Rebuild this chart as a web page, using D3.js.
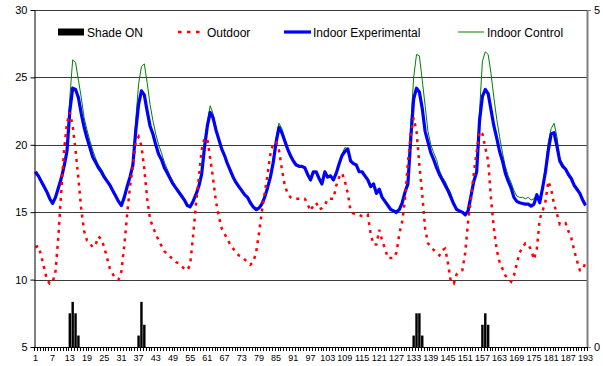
<!DOCTYPE html>
<html>
<head>
<meta charset="utf-8">
<script src="https://cdn.jsdelivr.net/npm/d3@7"></script>
<style>
  body { margin: 0; background: #fff; }
  svg { display: block; font-family: "Liberation Sans", Arial, sans-serif; }
  .axis text { fill: #000; }
</style>
</head>
<body>
<svg id="chart" width="603" height="366"></svg>
<script>
// categories are the sample numbers 1..193
const categories = d3.range(1, 194);

const xTickLabels = [1, 7, 13, 19, 25, 31, 37, 43, 49, 55, 61, 67, 73, 79, 85, 91, 97,
  103, 109, 115, 121, 127, 133, 139, 145, 151, 157, 163, 169, 175, 181, 187, 193];

const leftTicks = [5, 10, 15, 20, 25, 30];
const rightTicks = [0, 5];

// Shade ON (right axis)
const shadeCats = [13, 14, 15, 16, 37, 38, 39, 133, 134, 135, 136, 157, 158, 159];
const shadeVals = [0.5, 0.67, 0.5, 0.17, 0.17, 0.67, 0.33, 0.17, 0.5, 0.5, 0.17, 0.33, 0.5, 0.33];

const outdoor = [
  12.4, 12.5, 11.8, 10.9, 10.0, 9.7, 9.8, 10.6, 13.2, 16.5,
  19.6, 21.6, 22.4, 21.4, 19.6, 17.5, 15.2, 13.6, 12.9, 12.7,
  12.4, 12.6, 13.2, 13.0, 12.4, 11.6, 10.8, 10.4, 10.1, 10.0,
  10.6, 12.5, 14.8, 16.9, 18.4, 20.2, 20.6, 19.9, 18.2, 16.0,
  14.5, 13.9, 13.4, 12.9, 12.5, 12.1, 11.9, 11.7, 11.5, 11.3,
  11.2, 11.0, 10.8, 10.7, 11.1, 13.2, 15.5, 17.5, 19.6, 20.5,
  20.4, 19.0, 17.5, 15.8, 14.7, 13.8, 13.4, 13.0, 12.6, 12.3,
  12.0, 11.8, 11.7, 11.5, 11.3, 11.1, 11.3, 12.0, 13.4, 15.0,
  16.4, 17.8, 19.3, 20.1, 20.2, 19.6, 18.2, 17.0, 16.4, 16.1,
  16.0, 16.0, 16.0, 16.0, 16.0, 15.6, 15.1, 15.5, 15.7, 15.2,
  15.3, 15.5, 16.0, 16.0, 16.0, 17.0, 17.6, 17.9, 17.3, 16.4,
  15.1, 14.9, 14.9, 14.8, 14.7, 14.7, 14.8, 13.4, 12.6, 12.6,
  13.7, 12.9, 12.3, 11.6, 11.6, 11.6, 12.0, 13.4, 14.3, 16.0,
  18.7, 20.8, 22.0, 21.0, 18.5, 16.3, 13.8, 12.7, 12.4, 12.2,
  12.0, 11.8, 12.2, 12.3, 11.2, 9.8, 9.7, 10.4, 10.6, 10.7,
  12.0, 14.3, 16.0, 17.9, 19.5, 21.0, 20.8, 19.8, 18.8, 16.0,
  13.8, 12.2, 11.3, 10.8, 10.3, 10.1, 9.85, 10.3, 11.2, 12.0,
  12.4, 12.7, 12.6, 12.2, 11.5, 12.3, 14.5, 15.1, 15.8, 17.3,
  16.7, 15.6, 14.9, 14.1, 14.2, 14.2, 13.6, 13.1, 12.2, 11.4,
  10.7, 10.7, 11.3
];

const indoorExp = [
  18.0, 17.7, 17.3, 16.9, 16.5, 16.0, 15.65, 16.1, 16.8, 17.5,
  18.4, 19.5, 22.5, 24.2, 24.1, 23.5, 22.3, 21.3, 20.5, 19.8,
  19.1, 18.7, 18.3, 18.0, 17.6, 17.3, 17.0, 16.6, 16.2, 15.8,
  15.5, 16.1, 16.9, 17.6, 18.5, 21.0, 23.0, 24.0, 23.7, 22.5,
  21.4, 20.8, 20.0, 19.3, 18.9, 18.3, 17.9, 17.5, 17.1, 16.8,
  16.5, 16.2, 15.9, 15.5, 15.4, 15.8, 16.3, 16.9, 17.8, 19.8,
  21.4, 22.4, 22.0, 21.1, 20.4, 19.7, 19.2, 18.6, 18.1, 17.6,
  17.2, 16.9, 16.6, 16.3, 16.1, 15.7, 15.4, 15.2, 15.3, 15.6,
  16.1, 16.8, 17.6, 18.7, 20.2, 21.3, 20.9, 20.3, 19.7, 19.2,
  18.8, 18.5, 18.4, 18.4, 18.3, 17.8, 17.4, 18.0, 18.0, 17.5,
  17.1, 18.0, 17.6, 17.7, 17.4, 17.9, 18.6, 19.2, 19.5, 19.7,
  18.8, 18.6, 18.5, 18.0, 18.0, 17.7, 17.4, 16.9, 17.1, 16.4,
  16.7, 16.1, 15.8, 15.5, 15.2, 15.1, 15.0, 15.2, 15.7, 16.5,
  17.1, 20.5, 23.4, 24.2, 23.9, 22.7, 21.0, 20.2, 19.4, 18.9,
  18.3, 17.8, 17.4, 17.0, 16.6, 16.1, 15.6, 15.2, 15.1, 15.0,
  14.8, 15.1, 16.2, 17.3, 18.0, 21.8, 23.6, 24.1, 23.8, 22.6,
  21.4, 20.5, 19.5, 18.8, 17.9, 17.3, 16.8, 16.1, 15.8, 15.7,
  15.65, 15.6, 15.6, 15.45, 15.6, 16.3, 15.7, 16.8, 18.0, 19.6,
  20.8, 20.9, 19.9, 18.8, 18.4, 18.2, 17.8, 17.5, 17.0, 16.7,
  16.4, 15.9, 15.5
];

const indoorCtl = [
  17.9, 17.6, 17.2, 16.8, 16.4, 15.9, 15.55, 16.0, 16.7, 17.4,
  18.4, 19.8, 23.5, 26.3, 26.1, 24.8, 23.5, 22.0, 21.1, 20.3,
  19.6, 19.0, 18.5, 18.2, 17.8, 17.4, 17.1, 16.7, 16.3, 15.8,
  15.4, 16.0, 16.8, 17.5, 18.6, 21.8, 24.5, 25.8, 26.0, 24.6,
  23.0, 21.8, 20.8, 20.0, 19.4, 18.7, 18.2, 17.7, 17.3, 16.9,
  16.6, 16.3, 15.9, 15.5, 15.3, 15.7, 16.2, 16.9, 17.9, 20.2,
  21.7, 22.9, 22.3, 21.3, 20.5, 19.8, 19.3, 18.7, 18.1, 17.6,
  17.2, 16.9, 16.6, 16.3, 16.0, 15.6, 15.3, 15.1, 15.2, 15.5,
  16.0, 16.8, 17.7, 18.9, 20.5, 21.6, 21.2, 20.5, 19.8, 19.3,
  18.9, 18.6, 18.5, 18.4, 18.3, 17.8, 17.3, 17.9, 17.9, 17.4,
  17.0, 17.9, 17.6, 17.6, 17.3, 17.9, 18.7, 19.3, 19.8, 19.7,
  18.9, 18.6, 18.5, 18.1, 17.9, 17.7, 17.3, 16.8, 17.0, 16.3,
  16.6, 16.1, 15.8, 15.5, 15.2, 15.0, 14.85, 15.2, 15.8, 16.6,
  17.3, 21.5, 25.0, 26.7, 26.6, 24.8, 22.9, 21.0, 20.0, 19.4,
  18.9, 18.1, 17.6, 17.3, 16.8, 16.4, 15.7, 15.3, 15.1, 15.0,
  14.8, 15.1, 16.3, 17.4, 18.1, 22.5, 26.2, 26.9, 26.7, 25.3,
  23.5, 21.9, 20.6, 19.4, 18.4, 17.7, 17.2, 16.6, 16.2, 16.1,
  16.1, 16.0, 16.1, 15.9, 16.0, 16.3, 16.0, 17.0, 18.3, 20.2,
  21.2, 21.6, 20.6, 19.0, 18.6, 18.3, 17.9, 17.6, 17.1, 16.8,
  16.4, 16.0, 15.6
];

const W = 603, H = 366;
const margin = { top: 10, right: 16, bottom: 19, left: 34 };

const svg = d3.select("#chart");

const x = d3.scaleBand()
  .domain(categories)
  .range([margin.left, W - margin.right]);

const y = d3.scaleLinear().domain([5, 30]).range([H - margin.bottom, margin.top]);
const y2 = d3.scaleLinear().domain([0, 5]).range([H - margin.bottom, margin.top]);

const cx = (c) => x(c) + x.bandwidth() / 2;

// gridlines
svg.append("g")
  .selectAll("line")
  .data(leftTicks.filter((d) => d > 5))
  .join("line")
  .attr("x1", margin.left)
  .attr("x2", W - margin.right)
  .attr("y1", (d) => Math.round(y(d)) + 0.5)
  .attr("y2", (d) => Math.round(y(d)) + 0.5)
  .attr("stroke", "#3a3a3a")
  .attr("stroke-width", 1);

// shade bars
const barW = x.bandwidth() * 0.85;
svg.append("g")
  .selectAll("rect")
  .data(shadeCats.map((c, i) => ({ c, v: shadeVals[i] })))
  .join("rect")
  .attr("x", (d) => cx(d.c) - barW / 2)
  .attr("width", barW)
  .attr("y", (d) => y2(d.v))
  .attr("height", (d) => y2(0) - y2(d.v))
  .attr("fill", "#000");

// lines
const line = d3.line()
  .x((d, i) => cx(categories[i]))
  .y((d) => y(d));

svg.append("path")
  .datum(indoorCtl)
  .attr("d", line)
  .attr("fill", "none")
  .attr("stroke", "#008000")
  .attr("stroke-width", 1);

svg.append("path")
  .datum(indoorExp)
  .attr("d", line)
  .attr("fill", "none")
  .attr("stroke", "#0000ff")
  .attr("stroke-width", 3.2)
  .attr("stroke-linejoin", "round");

svg.append("path")
  .datum(outdoor)
  .attr("d", line)
  .attr("fill", "none")
  .attr("stroke", "#ff0000")
  .attr("stroke-width", 2.5)
  .attr("stroke-dasharray", "3,5");

// left axis
const gLeft = svg.append("g")
  .attr("class", "axis")
  .attr("transform", `translate(${margin.left + 0.5},0)`)
  .call(d3.axisLeft(y).tickValues(leftTicks).tickFormat(d3.format("d"))
    .tickSize(4).tickPadding(3).tickSizeOuter(0));
gLeft.selectAll("text").attr("font-size", 11).attr("font-family", "Liberation Sans, Arial, sans-serif");
gLeft.select(".domain").attr("stroke", "#000");

// right axis
const gRight = svg.append("g")
  .attr("class", "axis")
  .attr("transform", `translate(${W - margin.right},0)`)
  .call(d3.axisRight(y2).tickValues(rightTicks).tickFormat(d3.format("d"))
    .tickSize(4).tickPadding(3).tickSizeOuter(0));
gRight.selectAll("text").attr("font-size", 11).attr("font-family", "Liberation Sans, Arial, sans-serif");
gRight.select(".domain").attr("stroke", "#808080").attr("stroke-width", 2);
gRight.selectAll(".tick line").attr("stroke", "#808080");

// bottom axis: one tick per category boundary, label every 6th
const yb = H - margin.bottom;
const gBottom = svg.append("g").attr("class", "axis");
gBottom.append("line")
  .attr("x1", margin.left)
  .attr("x2", W - margin.right)
  .attr("y1", yb + 0.5)
  .attr("y2", yb + 0.5)
  .attr("stroke", "#000");
gBottom.selectAll("line.minor")
  .data(categories.concat([null]))
  .join("line")
  .attr("class", "minor")
  .attr("x1", (d, i) => Math.round(margin.left + i * x.step()) + 0.5)
  .attr("x2", (d, i) => Math.round(margin.left + i * x.step()) + 0.5)
  .attr("y1", yb)
  .attr("y2", yb + 4)
  .attr("stroke", "#000");
gBottom.selectAll("text")
  .data(xTickLabels)
  .join("text")
  .attr("x", (d) => cx(d))
  .attr("y", yb + 14)
  .attr("text-anchor", "middle")
  .attr("font-size", 9)
  .text((d) => d);

// legend
const legend = svg.append("g").attr("font-size", 12);
const legendItems = [
  { label: "Shade ON", x: 58, type: "bar" },
  { label: "Outdoor", x: 178, type: "dot" },
  { label: "Indoor Experimental", x: 284, type: "thick" },
  { label: "Indoor Control", x: 458, type: "thin" },
];
const ly = 32;
legendItems.forEach((d) => {
  const g = legend.append("g").attr("transform", `translate(${d.x},${ly})`);
  if (d.type === "bar") {
    g.append("rect").attr("x", 0).attr("y", -3.5).attr("width", 26).attr("height", 7).attr("fill", "#000");
  } else if (d.type === "dot") {
    g.append("line").attr("x1", 0).attr("x2", 26).attr("stroke", "#ff0000")
      .attr("stroke-width", 2.5).attr("stroke-dasharray", "3.5,5.5");
  } else if (d.type === "thick") {
    g.append("line").attr("x1", 0).attr("x2", 27).attr("stroke", "#0000ff").attr("stroke-width", 3.2);
  } else {
    g.append("line").attr("x1", 0).attr("x2", 26).attr("stroke", "#008000").attr("stroke-width", 1);
  }
  g.append("text").attr("x", 29).attr("y", 4.5).text(d.label);
});
</script>
</body>
</html>
